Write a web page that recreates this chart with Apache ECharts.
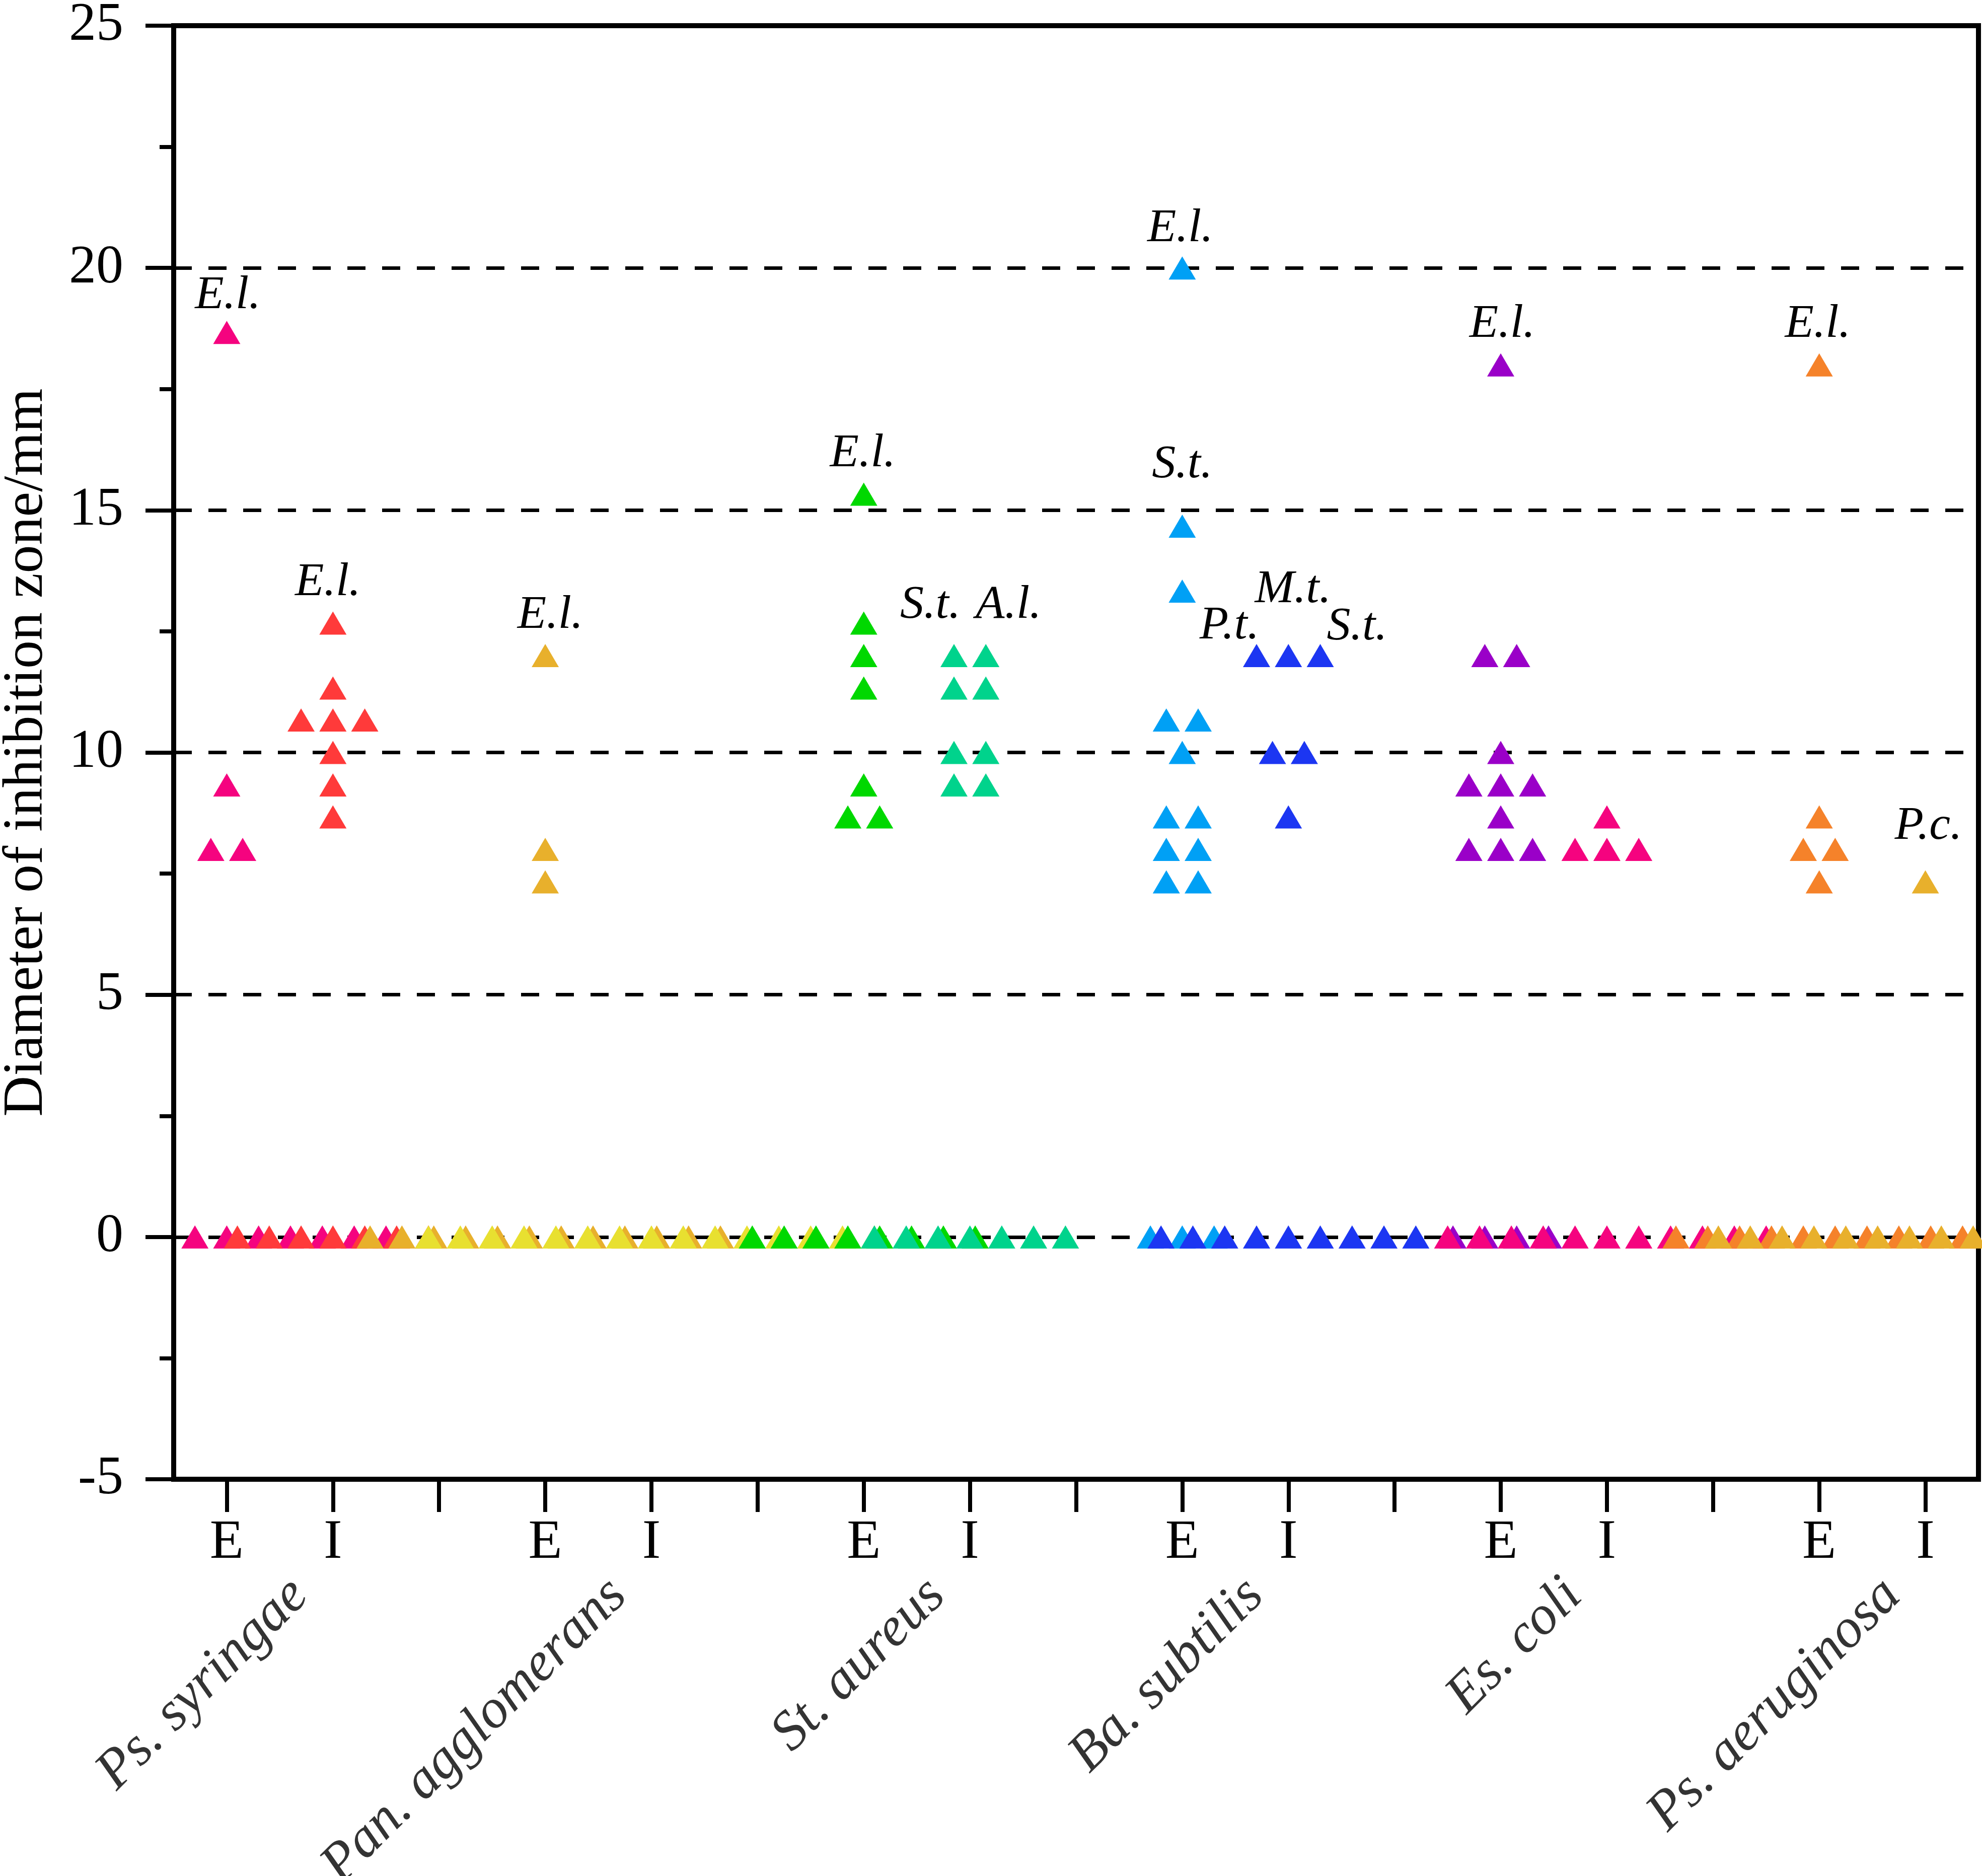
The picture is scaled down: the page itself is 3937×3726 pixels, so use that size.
<!DOCTYPE html>
<html lang="en">

<head>
    <meta charset="UTF-8">
    <title>Diameter of inhibition zone</title>
    <script src="https://cdn.jsdelivr.net/npm/echarts@6.0.0/dist/echarts.min.js"></script>
    <style>
        html, body { margin: 0; padding: 0; background: #fff; }
        #chart { width: 3937px; height: 3726px; }
    </style>
</head>

<body>
    <div id="chart"></div>
    <script>
        // bacteria, E/I tick labels
        const groupNames = ['Ps. syringae', 'Pan. agglomerans', 'St. aureus', 'Ba. subtilis', 'Es. coli', 'Ps. aeruginosa'];
        const tickLabels = ['E', 'I', '', 'E', 'I', '', 'E', 'I', '', 'E', 'I', '', 'E', 'I', '', 'E', 'I'];

        // inhibition zone diameters (mm), 15 extracts per series
        const psSyringaeE = [18.67, 9.33, 8, 8, 0, 0, 0, 0, 0, 0, 0, 0, 0, 0, 0];
        const psSyringaeI = [12.67, 11.33, 10.67, 10.67, 10.67, 10, 9.33, 8.67, 0, 0, 0, 0, 0, 0, 0];
        const panAgglE = [12, 8, 7.33, 0, 0, 0, 0, 0, 0, 0, 0, 0, 0, 0, 0];
        const panAgglI = [0, 0, 0, 0, 0, 0, 0, 0, 0, 0, 0, 0, 0, 0, 0];
        const stAureusE = [15.33, 12.67, 12, 11.33, 9.33, 8.67, 8.67, 0, 0, 0, 0, 0, 0, 0, 0];
        const stAureusI = [12, 12, 11.33, 11.33, 10, 10, 9.33, 9.33, 0, 0, 0, 0, 0, 0, 0];
        const baSubtilisE = [20, 14.67, 13.33, 10.67, 10.67, 10, 8.67, 8.67, 8, 8, 7.33, 7.33, 0, 0, 0];
        const baSubtilisI = [12, 12, 12, 10, 10, 8.67, 0, 0, 0, 0, 0, 0, 0, 0, 0];
        const esColiE = [18, 12, 12, 10, 9.33, 9.33, 9.33, 8.67, 8, 8, 8, 0, 0, 0, 0];
        const esColiI = [8.67, 8, 8, 8, 0, 0, 0, 0, 0, 0, 0, 0, 0, 0, 0];
        const psAerugE = [18, 8.67, 8, 8, 7.33, 0, 0, 0, 0, 0, 0, 0, 0, 0, 0];
        const psAerugI = [7.33, 0, 0, 0, 0, 0, 0, 0, 0, 0, 0, 0, 0, 0, 0];

        const seriesValues = [psSyringaeE, psSyringaeI, panAgglE, panAgglI, stAureusE, stAureusI,
            baSubtilisE, baSubtilisI, esColiE, esColiI, psAerugE, psAerugI];
        const seriesColors = ['#f5037f', '#ff3a3a', '#e8b02c', '#e8e030', '#00d800', '#00d38c',
            '#00a0f5', '#1c36f2', '#9a00c8', '#f5037f', '#f5822a', '#e8b02c'];

        // extract abbreviations: [series, value, nth equal value, text, dx, dy]
        const notes = [
            [0, 18.67, 0, 'E.l.', 2, -73],
            [1, 12.67, 0, 'E.l.', -10, -80],
            [2, 12, 0, 'E.l.', 10, -80],
            [4, 15.33, 0, 'E.l.', -2, -80],
            [5, 12, 0, 'S.t.', -47, -100],
            [5, 12, 1, 'A.l.', 45, -100],
            [6, 20, 0, 'E.l.', -4, -78],
            [6, 14.67, 0, 'S.t.', 0, -122],
            [7, 12, 0, 'P.t.', -54, -59],
            [7, 12, 1, 'M.t.', 9, -131],
            [7, 12, 2, 'S.t.', 73, -57],
            [8, 18, 0, 'E.l.', 3, -80],
            [10, 18, 0, 'E.l.', -3, -80],
            [11, 7.33, 0, 'P.c.', 6, -110]
        ];

        const font = '"Liberation Serif", "Times New Roman", Tinos, serif';
        const step = 0.3; // horizontal spacing of equal values

        // spread equal values side by side around the column centre
        function swarm(values, center) {
            let count = {};
            values.forEach(v => count[v] = (count[v] || 0) + 1);
            let seen = {};
            return values.map(v => {
                seen[v] = seen[v] === undefined ? 0 : seen[v] + 1;
                return { value: [center + (seen[v] - (count[v] - 1) / 2) * step, v], rank: seen[v] };
            });
        }

        let series = seriesValues.map((vals, s) => {
            let center = Math.floor(s / 2) * 3 + (s % 2) + 0.5;
            let data = swarm(vals, center);
            notes.filter(n => n[0] === s).forEach(n => {
                let item = data.find(d => d.value[1] === n[1] && d.rank === n[2]);
                item.label = {
                    show: true,
                    formatter: n[3],
                    position: 'inside',
                    offset: [n[4], n[5]],
                    align: 'center',
                    verticalAlign: 'middle',
                    color: '#000',
                    fontFamily: font,
                    fontStyle: 'italic',
                    fontSize: 94
                };
            });
            return {
                type: 'scatter',
                xAxisIndex: 1,
                symbol: 'triangle',
                symbolSize: [54, 46],
                itemStyle: { color: seriesColors[s], opacity: 1 },
                data: data.map(d => ({ value: d.value, label: d.label })),
                silent: true,
                animation: false
            };
        });

        // bacteria names under the axis (offset is in the rotated label frame)
        series.push({
            type: 'scatter',
            xAxisIndex: 1,
            symbolSize: 0,
            clip: false,
            silent: true,
            animation: false,
            data: groupNames.map((g, i) => ({ value: [i * 3 + 1, -5], name: g })),
            label: {
                show: true,
                formatter: p => p.name,
                position: 'inside',
                offset: [-124, 180],
                align: 'right',
                verticalAlign: 'middle',
                rotate: 45,
                color: '#000',
                fontFamily: font,
                fontStyle: 'italic',
                fontSize: 110
            }
        });

        let chart = echarts.init(document.getElementById('chart'), null, { renderer: 'canvas' });

        let options = {
            backgroundColor: '#fff',
            animation: false,
            grid: {
                left: 345, right: 7, top: 51, bottom: 788,
                containLabel: false,
                outerBoundsMode: 'none',
                show: true, borderColor: '#000', borderWidth: 10
            },
            xAxis: [
                {
                    type: 'category',
                    data: tickLabels.map((t, i) => String(i)),
                    boundaryGap: true,
                    axisLine: { show: true, onZero: false, lineStyle: { color: '#000', width: 10 } },
                    axisTick: {
                        show: true, alignWithLabel: true, interval: 0, inside: false, length: 65,
                        lineStyle: { color: '#000', width: 8 }
                    },
                    axisLabel: {
                        interval: 0,
                        formatter: (v, i) => tickLabels[i],
                        margin: 72,
                        color: '#000',
                        fontFamily: font,
                        fontSize: 110
                    },
                    splitLine: { show: false }
                },
                {
                    type: 'value',
                    min: 0,
                    max: 17,
                    show: false
                }
            ],
            yAxis: {
                type: 'value',
                min: -5,
                max: 25,
                interval: 5,
                name: 'Diameter of inhibition zone/mm',
                nameLocation: 'middle',
                nameGap: 235,
                nameTextStyle: { color: '#000', fontFamily: font, fontSize: 112 },
                axisLine: { show: true, onZero: false, lineStyle: { color: '#000', width: 10 } },
                axisTick: { show: true, length: 56, lineStyle: { color: '#000', width: 8 } },
                minorTick: { show: true, splitNumber: 2, length: 28, lineStyle: { color: '#000', width: 8 } },
                axisLabel: { margin: 100, color: '#000', fontFamily: font, fontSize: 108 },
                splitLine: { show: true, lineStyle: { color: '#000', width: 7, type: [36, 33] } }
            },
            series: series
        };

        chart.setOption(options);
    </script>
</body>

</html>
